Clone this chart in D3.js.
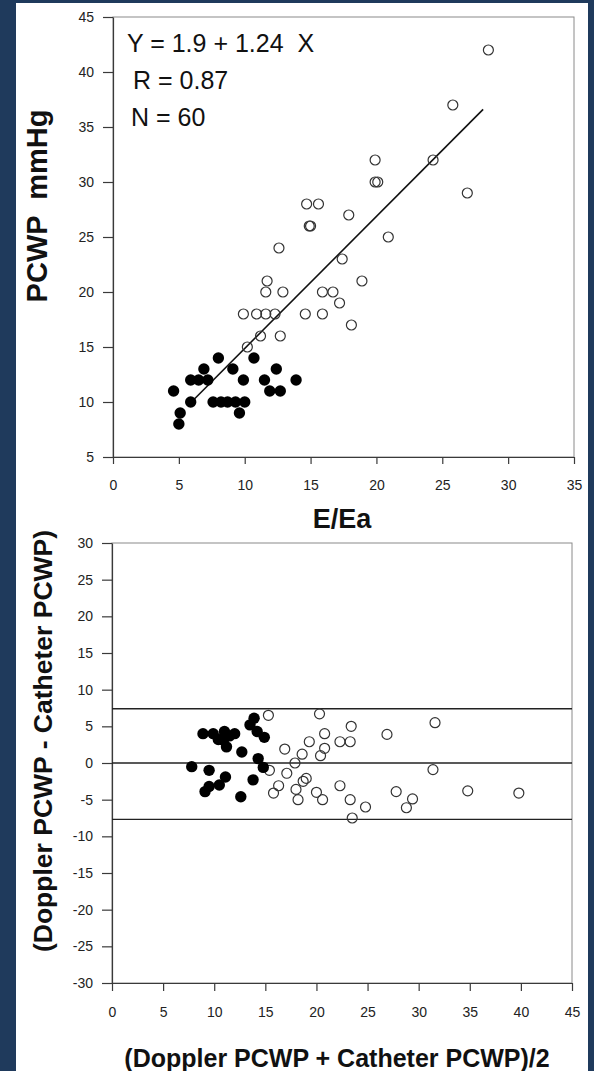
<!DOCTYPE html>
<html>
<head>
<meta charset="utf-8">
<script src="https://cdn.jsdelivr.net/npm/d3@7/dist/d3.min.js"></script>
<style>
  html, body { margin: 0; padding: 0; background: #1f3a5c; }
  svg { display: block; }
  text { font-family: "Liberation Sans", Arial, sans-serif; }
</style>
</head>
<body>
<script>
// ---------- Data: top panel (PCWP vs E/Ea) ----------
const topXTicks = [0, 5, 10, 15, 20, 25, 30, 35];
const topYTicks = [5, 10, 15, 20, 25, 30, 35, 40, 45];
const filledTopX = [4.6, 5.1, 5.0, 5.9, 5.9, 6.5, 7.2, 6.9, 8.0, 7.6, 8.2, 8.7, 9.3, 10.0, 9.6, 9.1, 9.9, 10.7, 11.5, 11.9, 12.7, 12.4, 13.9];
const filledTopY = [11, 9, 8, 10, 12, 12, 12, 13, 14, 10, 10, 10, 10, 10, 9, 13, 12, 14, 12, 11, 11, 13, 12];
const openTopX = [10.2, 11.2, 12.7, 9.9, 10.9, 11.6, 12.3, 14.6, 15.9, 11.6, 11.7, 12.9, 12.6, 15.9, 16.7, 17.2, 18.1, 18.9, 17.4, 14.9, 15.0, 14.7, 15.6, 17.9, 20.9, 19.9, 20.1, 19.9, 24.3, 26.9, 25.8, 28.5];
const openTopY = [15, 16, 16, 18, 18, 18, 18, 18, 18, 20, 21, 20, 24, 20, 20, 19, 17, 21, 23, 26, 26, 28, 28, 27, 25, 30, 30, 32, 32, 29, 37, 42];
const regLineX = [6.2, 28.1];
const regLineY = [10.3, 36.6];
const statLines = ["Y = 1.9 + 1.24  X", "R = 0.87", "N = 60"];

// ---------- Data: bottom panel (Bland-Altman) ----------
const botXTicks = [0, 5, 10, 15, 20, 25, 30, 35, 40, 45];
const botYTicks = [-30, -25, -20, -15, -10, -5, 0, 5, 10, 15, 20, 25, 30];
const filledBotX = [7.8, 8.9, 9.9, 10.4, 11.0, 10.9, 11.2, 12.0, 11.5, 12.7, 13.9, 13.5, 14.2, 14.9, 14.3, 14.8, 9.5, 11.1, 10.5, 9.5, 9.1, 13.8, 12.6];
const filledBotY = [-0.5, 4.0, 4.0, 3.2, 4.3, 3.1, 2.2, 4.0, 3.7, 1.5, 6.1, 5.2, 4.3, 3.5, 0.6, -0.6, -1.0, -1.9, -3.0, -3.2, -3.9, -2.3, -4.6];
const openBotX = [15.3, 20.3, 16.9, 15.4, 16.3, 15.8, 17.1, 17.9, 18.6, 19.3, 20.8, 20.8, 20.4, 19.0, 18.7, 18.0, 18.2, 20.0, 20.6, 22.3, 23.3, 23.4, 26.9, 31.6, 31.4, 22.3, 23.3, 24.8, 23.5, 27.8, 29.4, 28.8, 34.8, 39.8];
const openBotY = [6.5, 6.7, 1.9, -1.0, -3.1, -4.1, -1.4, 0.0, 1.2, 2.9, 4.0, 2.0, 1.0, -2.1, -2.5, -3.6, -5.0, -4.0, -5.0, 2.9, 2.9, 5.0, 3.9, 5.5, -0.9, -3.1, -5.0, -6.0, -7.5, -3.9, -4.9, -6.1, -3.8, -4.1];
const meanDiff = [0];
const limitsOfAgreement = [7.4, -7.7];

// ---------- Drawing ----------
const W = 594, H = 1071;
const svg = d3.select("body").append("svg").attr("width", W).attr("height", H);
svg.append("rect").attr("x", 0).attr("y", 0).attr("width", W).attr("height", H).attr("fill", "#1f3a5c");
svg.append("rect").attr("x", 16).attr("y", 3).attr("width", 572).attr("height", H - 3).attr("fill", "#ffffff");

const axisColor = "#3a3a3a";
function styleAxis(g) {
  g.select(".domain").attr("stroke", axisColor).attr("stroke-width", 1.2);
  g.selectAll(".tick line").attr("stroke", axisColor).attr("stroke-width", 1.2);
  g.selectAll(".tick text").attr("fill", "#222").style("font-size", "14px")
    .style("font-family", "'Liberation Sans', Arial, sans-serif");
}

// ---- Top panel ----
const xT = d3.scaleLinear().domain([0, 35]).range([113, 574]);
const yT = d3.scaleLinear().domain([5, 45]).range([457, 17]);

svg.append("rect").attr("x", xT(0)).attr("y", yT(45)).attr("width", xT(35) - xT(0)).attr("height", yT(5) - yT(45))
  .attr("fill", "none").attr("stroke", "#8a8a8a").attr("stroke-width", 1);

svg.append("g").attr("transform", `translate(0,${yT(5)})`)
  .call(d3.axisBottom(xT).tickValues(topXTicks).tickSize(7).tickPadding(16).tickSizeOuter(0).tickFormat(d => String(d)))
  .call(styleAxis);
svg.append("g").attr("transform", `translate(${xT(0)},0)`)
  .call(d3.axisLeft(yT).tickValues(topYTicks).tickSize(10).tickPadding(9).tickSizeOuter(0).tickFormat(d => String(d)))
  .call(styleAxis);

svg.append("line")
  .attr("x1", xT(regLineX[0])).attr("y1", yT(regLineY[0]))
  .attr("x2", xT(regLineX[1])).attr("y2", yT(regLineY[1]))
  .attr("stroke", "#111").attr("stroke-width", 1.6);

svg.append("g").selectAll("circle").data(d3.zip(openTopX, openTopY)).join("circle")
  .attr("cx", d => xT(d[0])).attr("cy", d => yT(d[1])).attr("r", 5)
  .attr("fill", "none").attr("stroke", "#333").attr("stroke-width", 1.2);
svg.append("g").selectAll("circle").data(d3.zip(filledTopX, filledTopY)).join("circle")
  .attr("cx", d => xT(d[0])).attr("cy", d => yT(d[1])).attr("r", 5.7)
  .attr("fill", "#000");

const statPos = [[127, 52], [133, 89], [131, 126]];
svg.append("g").selectAll("text").data(statLines).join("text")
  .attr("x", (d, i) => statPos[i][0]).attr("y", (d, i) => statPos[i][1])
  .attr("fill", "#111").style("font-size", "25px").style("white-space", "pre")
  .text(d => d);

svg.append("text").attr("transform", "translate(47,206) rotate(-90)")
  .attr("text-anchor", "middle").style("font-size", "29px").style("font-weight", "bold")
  .style("white-space", "pre").attr("fill", "#111").text("PCWP  mmHg");
svg.append("text").attr("x", 342).attr("y", 528).attr("text-anchor", "middle")
  .style("font-size", "27px").style("font-weight", "bold").attr("fill", "#111").text("E/Ea");

// ---- Bottom panel ----
const xB = d3.scaleLinear().domain([0, 45]).range([112, 572]);
const yB = d3.scaleLinear().domain([-30, 30]).range([983, 543]);

svg.append("rect").attr("x", xB(0)).attr("y", yB(30)).attr("width", xB(45) - xB(0)).attr("height", yB(-30) - yB(30))
  .attr("fill", "none").attr("stroke", "#8a8a8a").attr("stroke-width", 1);

svg.append("g").attr("transform", `translate(0,${yB(-30)})`)
  .call(d3.axisBottom(xB).tickValues(botXTicks).tickSize(8).tickPadding(16).tickSizeOuter(0).tickFormat(d => String(d)))
  .call(styleAxis);
svg.append("g").attr("transform", `translate(${xB(0)},0)`)
  .call(d3.axisLeft(yB).tickValues(botYTicks).tickSize(10).tickPadding(9).tickSizeOuter(0).tickFormat(d => String(d)))
  .call(styleAxis);

svg.append("g").selectAll("line").data(meanDiff.concat(limitsOfAgreement)).join("line")
  .attr("x1", xB(0)).attr("x2", xB(45)).attr("y1", d => yB(d)).attr("y2", d => yB(d))
  .attr("stroke", "#222").attr("stroke-width", 1.3);

svg.append("g").selectAll("circle").data(d3.zip(openBotX, openBotY)).join("circle")
  .attr("cx", d => xB(d[0])).attr("cy", d => yB(d[1])).attr("r", 5)
  .attr("fill", "none").attr("stroke", "#333").attr("stroke-width", 1.2);
svg.append("g").selectAll("circle").data(d3.zip(filledBotX, filledBotY)).join("circle")
  .attr("cx", d => xB(d[0])).attr("cy", d => yB(d[1])).attr("r", 5.7)
  .attr("fill", "#000");

svg.append("text").attr("transform", "translate(52,741) rotate(-90)")
  .attr("text-anchor", "middle").style("font-size", "26.5px").style("font-weight", "bold")
  .attr("fill", "#111").text("(Doppler PCWP - Catheter PCWP)");
svg.append("text").attr("x", 337).attr("y", 1067).attr("text-anchor", "middle")
  .style("font-size", "25px").style("font-weight", "bold").attr("fill", "#111")
  .text("(Doppler PCWP + Catheter PCWP)/2");
</script>
</body>
</html>
